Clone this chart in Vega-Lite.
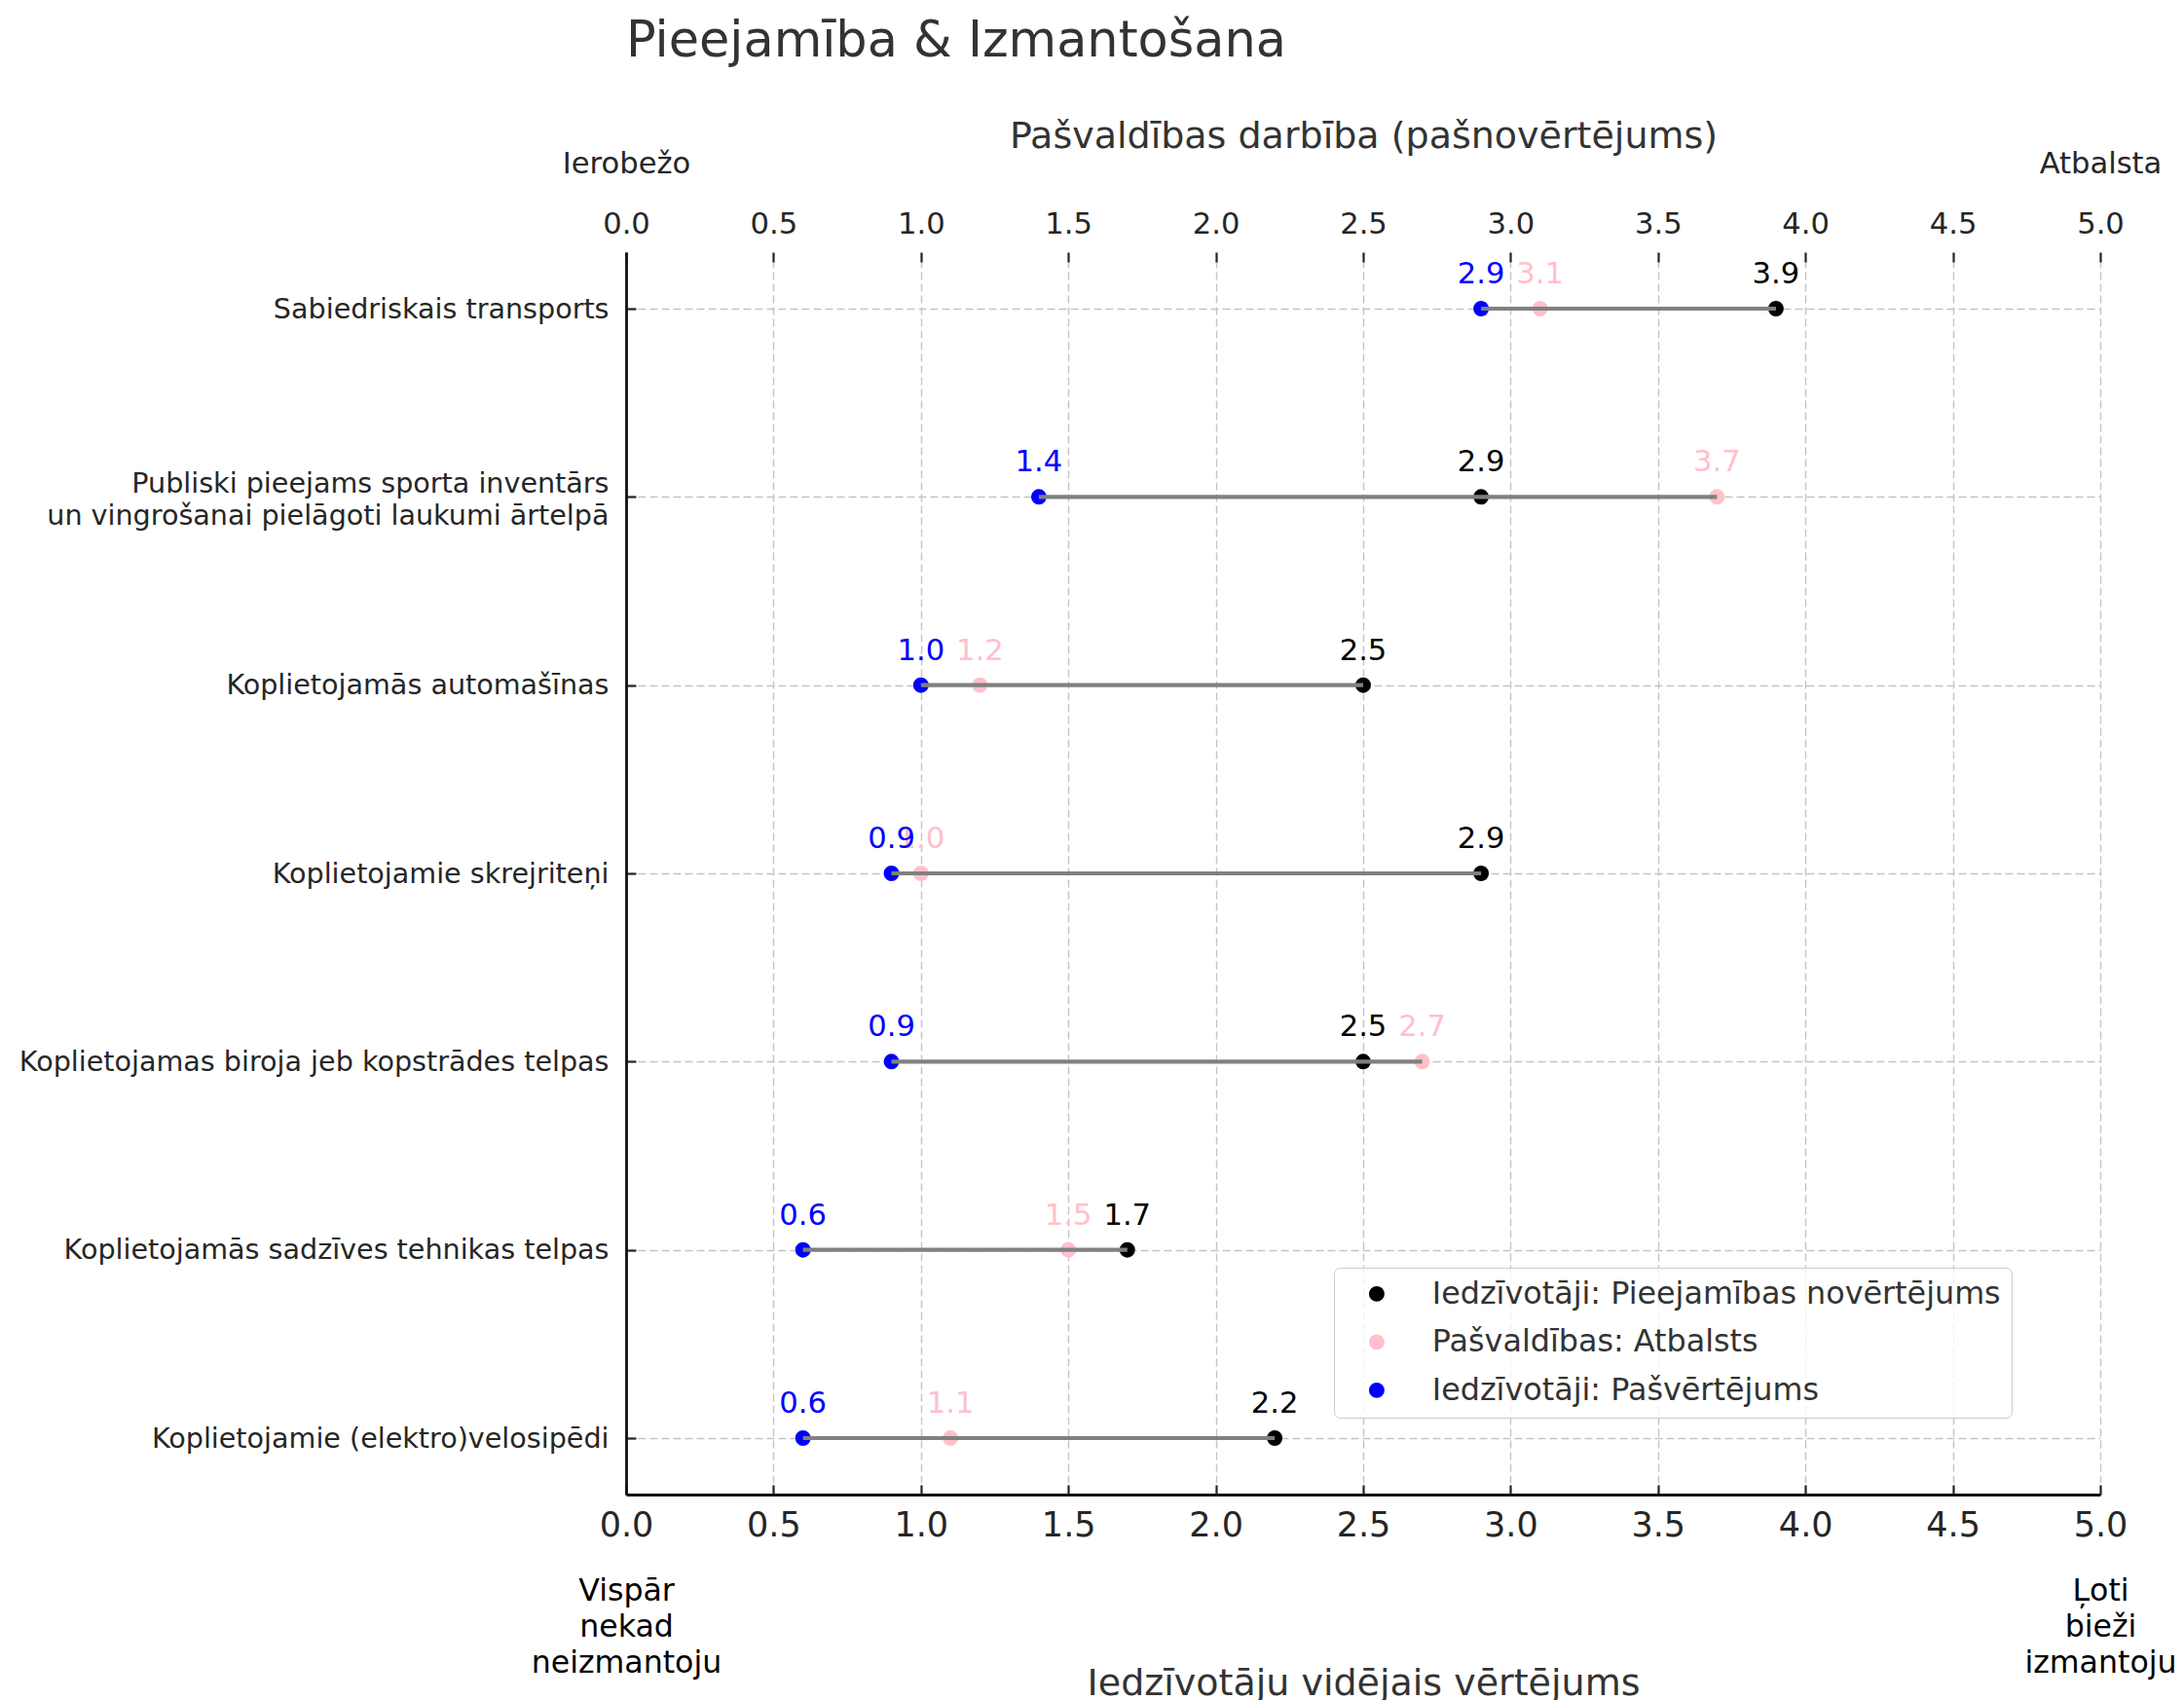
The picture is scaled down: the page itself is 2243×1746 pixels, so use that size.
{
  "$schema": "https://vega.github.io/schema/vega-lite/v6.json",
  "autosize": {"type": "none"},
  "width": 1514,
  "height": 1276,
  "padding": {"left": 643, "top": 259, "right": 86, "bottom": 211},
  "background": "white",
  "title": {
    "text": "Pieejamība & Izmantošana",
    "anchor": "start",
    "frame": "group",
    "font": "DejaVu Sans",
    "fontSize": 50.9,
    "fontWeight": "normal",
    "color": "#333333",
    "baseline": "alphabetic",
    "offset": 13
  },
  "config": {
    "view": {"stroke": null},
    "font": "DejaVu Sans",
    "axis": {
      "labelFont": "DejaVu Sans",
      "titleFont": "DejaVu Sans",
      "titleFontWeight": "normal",
      "titleColor": "#333333",
      "labelColor": "#262626",
      "tickColor": "#262626",
      "tickWidth": 2.2,
      "domainColor": "#111111",
      "domainWidth": 2.8,
      "gridColor": "#c4c4c4",
      "gridWidth": 1.4,
      "gridDash": [8, 4]
    }
  },
  "data": {
    "values": [
      {"cat": "Sabiedriskais transports", "series": "Iedzīvotāji: Pieejamības novērtējums", "value": 3.9},
      {"cat": "Sabiedriskais transports", "series": "Pašvaldības: Atbalsts", "value": 3.1},
      {"cat": "Sabiedriskais transports", "series": "Iedzīvotāji: Pašvērtējums", "value": 2.9},
      {"cat": "Publiski pieejams sporta inventārs\nun vingrošanai pielāgoti laukumi ārtelpā", "series": "Iedzīvotāji: Pieejamības novērtējums", "value": 2.9},
      {"cat": "Publiski pieejams sporta inventārs\nun vingrošanai pielāgoti laukumi ārtelpā", "series": "Pašvaldības: Atbalsts", "value": 3.7},
      {"cat": "Publiski pieejams sporta inventārs\nun vingrošanai pielāgoti laukumi ārtelpā", "series": "Iedzīvotāji: Pašvērtējums", "value": 1.4},
      {"cat": "Koplietojamās automašīnas", "series": "Iedzīvotāji: Pieejamības novērtējums", "value": 2.5},
      {"cat": "Koplietojamās automašīnas", "series": "Pašvaldības: Atbalsts", "value": 1.2},
      {"cat": "Koplietojamās automašīnas", "series": "Iedzīvotāji: Pašvērtējums", "value": 1.0},
      {"cat": "Koplietojamie skrejriteņi", "series": "Iedzīvotāji: Pieejamības novērtējums", "value": 2.9},
      {"cat": "Koplietojamie skrejriteņi", "series": "Pašvaldības: Atbalsts", "value": 1.0},
      {"cat": "Koplietojamie skrejriteņi", "series": "Iedzīvotāji: Pašvērtējums", "value": 0.9},
      {"cat": "Koplietojamas biroja jeb kopstrādes telpas", "series": "Iedzīvotāji: Pieejamības novērtējums", "value": 2.5},
      {"cat": "Koplietojamas biroja jeb kopstrādes telpas", "series": "Pašvaldības: Atbalsts", "value": 2.7},
      {"cat": "Koplietojamas biroja jeb kopstrādes telpas", "series": "Iedzīvotāji: Pašvērtējums", "value": 0.9},
      {"cat": "Koplietojamās sadzīves tehnikas telpas", "series": "Iedzīvotāji: Pieejamības novērtējums", "value": 1.7},
      {"cat": "Koplietojamās sadzīves tehnikas telpas", "series": "Pašvaldības: Atbalsts", "value": 1.5},
      {"cat": "Koplietojamās sadzīves tehnikas telpas", "series": "Iedzīvotāji: Pašvērtējums", "value": 0.6},
      {"cat": "Koplietojamie (elektro)velosipēdi", "series": "Iedzīvotāji: Pieejamības novērtējums", "value": 2.2},
      {"cat": "Koplietojamie (elektro)velosipēdi", "series": "Pašvaldības: Atbalsts", "value": 1.1},
      {"cat": "Koplietojamie (elektro)velosipēdi", "series": "Iedzīvotāji: Pašvērtējums", "value": 0.6}
    ]
  },
  "resolve": {"axis": {"x": "independent"}},
  "layer": [
    {
      "mark": {"type": "point", "filled": true, "size": 254, "opacity": 1, "strokeWidth": 0},
      "encoding": {
        "x": {
          "field": "value",
          "type": "quantitative",
          "scale": {"domain": [0, 5], "nice": false, "zero": false},
          "axis": {
            "orient": "bottom",
            "title": "Iedzīvotāju vidējais vērtējums",
            "titleFontSize": 38,
            "titleBaseline": "alphabetic",
            "titleY": 205,
            "values": [0, 0.5, 1, 1.5, 2, 2.5, 3, 3.5, 4, 4.5, 5],
            "format": ".1f",
            "labelFontSize": 35,
            "labelFlush": false,
            "labelOverlap": false,
            "labelBound": false,
            "tickSize": -10,
            "labelPadding": 24,
            "grid": true
          }
        },
        "y": {
          "field": "cat",
          "type": "nominal",
          "sort": [
            "Sabiedriskais transports",
            "Publiski pieejams sporta inventārs\nun vingrošanai pielāgoti laukumi ārtelpā",
            "Koplietojamās automašīnas",
            "Koplietojamie skrejriteņi",
            "Koplietojamas biroja jeb kopstrādes telpas",
            "Koplietojamās sadzīves tehnikas telpas",
            "Koplietojamie (elektro)velosipēdi"
          ],
          "scale": {"type": "point", "padding": 0.3},
          "axis": {
            "title": null,
            "labelFontSize": 28.6,
            "labelLineHeight": 33,
            "labelExpr": "split(datum.label, '\\n')",
            "labelOffset": {"condition": {"test": "indexof(datum.label, '\\n') >= 0", "value": -14}, "value": 0},
            "labelLimit": 0,
            "tickSize": -10,
            "labelPadding": 28,
            "grid": true
          }
        },
        "color": {
          "field": "series",
          "type": "nominal",
          "scale": {
            "domain": ["Iedzīvotāji: Pieejamības novērtējums", "Pašvaldības: Atbalsts", "Iedzīvotāji: Pašvērtējums"],
            "range": ["#000000", "#ffc0cb", "#0000ff"]
          },
          "legend": {
            "title": null,
            "orient": "none",
            "legendX": 727,
            "legendY": 1043,
            "direction": "vertical",
            "labelFont": "DejaVu Sans",
            "labelFontSize": 31.8,
            "labelColor": "#333333",
            "labelLimit": 0,
            "symbolType": "circle",
            "symbolSize": 254,
            "symbolStrokeWidth": 0,
            "symbolOpacity": 1,
            "strokeColor": "#cccccc",
            "fillColor": "rgba(255,255,255,0.8)",
            "cornerRadius": 6,
            "padding": 11,
            "rowPadding": 16.5,
            "symbolOffset": 17,
            "labelOffset": 41
          }
        }
      }
    },
    {
      "mark": {"type": "rule", "color": "#808080", "strokeWidth": 4.2},
      "encoding": {
        "x": {
          "aggregate": "min",
          "field": "value",
          "type": "quantitative",
          "axis": {
            "orient": "top",
            "title": "Pašvaldības darbība (pašnovērtējums)",
            "titleFontSize": 38,
            "titleBaseline": "alphabetic",
            "titleY": -107.5,
            "values": [0, 0.5, 1, 1.5, 2, 2.5, 3, 3.5, 4, 4.5, 5],
            "format": ".1f",
            "labelFontSize": 30.6,
            "labelLineHeight": -62,
            "labelFlush": false,
            "labelOverlap": false,
            "labelBound": false,
            "labelLimit": 0,
            "labelExpr": "datum.value == 0 ? [datum.label, 'Ierobežo'] : datum.value == 5 ? [datum.label, 'Atbalsta'] : datum.label",
            "tickSize": -10,
            "labelPadding": 23.4,
            "domain": false,
            "grid": false
          }
        },
        "x2": {"aggregate": "max", "field": "value"},
        "y": {
          "field": "cat",
          "type": "nominal",
          "sort": [
            "Sabiedriskais transports",
            "Publiski pieejams sporta inventārs\nun vingrošanai pielāgoti laukumi ārtelpā",
            "Koplietojamās automašīnas",
            "Koplietojamie skrejriteņi",
            "Koplietojamas biroja jeb kopstrādes telpas",
            "Koplietojamās sadzīves tehnikas telpas",
            "Koplietojamie (elektro)velosipēdi"
          ]
        }
      }
    },
    {
      "mark": {"type": "text", "font": "DejaVu Sans", "fontSize": 30.6, "dy": -26, "baseline": "alphabetic", "align": "center"},
      "encoding": {
        "x": {
          "field": "value",
          "type": "quantitative",
          "axis": {
            "orient": "bottom",
            "title": null,
            "values": [0, 5],
            "ticks": false,
            "domain": false,
            "grid": false,
            "labelExpr": "datum.value == 0 ? ['Vispār', 'nekad', 'neizmantoju'] : ['Ļoti', 'bieži', 'izmantoju']",
            "labelFontSize": 31.6,
            "labelLineHeight": 37,
            "labelColor": "#000000",
            "labelPadding": 83.5,
            "labelFlush": false,
            "labelOverlap": false,
            "labelBound": false,
            "labelLimit": 0
          }
        },
        "y": {
          "field": "cat",
          "type": "nominal",
          "sort": [
            "Sabiedriskais transports",
            "Publiski pieejams sporta inventārs\nun vingrošanai pielāgoti laukumi ārtelpā",
            "Koplietojamās automašīnas",
            "Koplietojamie skrejriteņi",
            "Koplietojamas biroja jeb kopstrādes telpas",
            "Koplietojamās sadzīves tehnikas telpas",
            "Koplietojamie (elektro)velosipēdi"
          ]
        },
        "text": {"field": "value", "type": "quantitative", "format": ".1f"},
        "color": {"field": "series", "type": "nominal", "legend": null}
      }
    }
  ]
}
